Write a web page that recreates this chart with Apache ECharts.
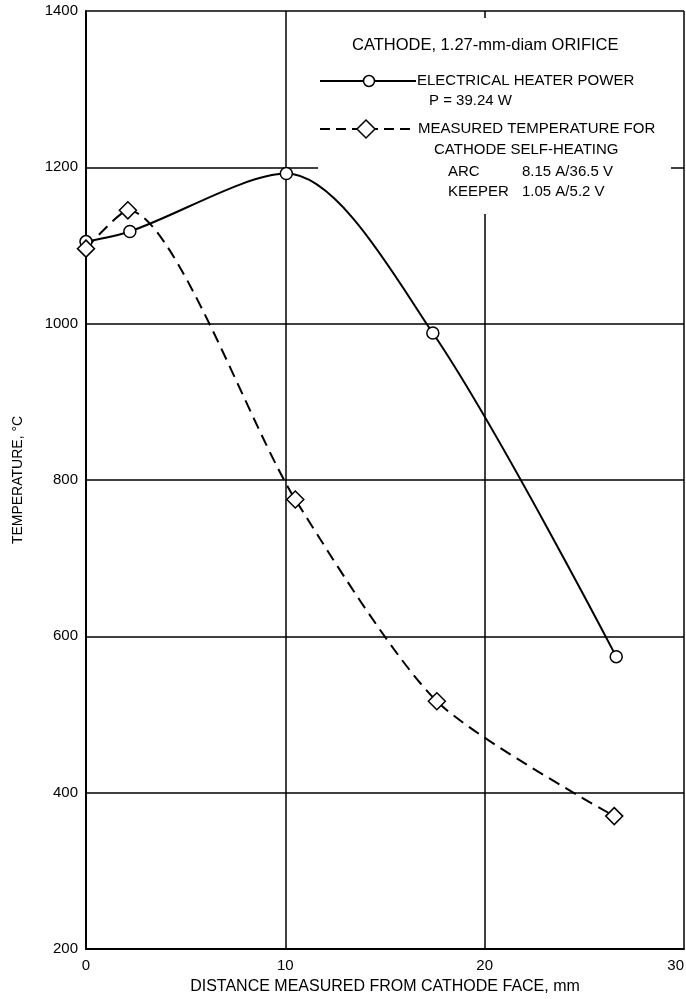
<!DOCTYPE html>
<html>
<head>
<meta charset="utf-8">
<title>Cathode temperature profile</title>
<script src="https://cdn.jsdelivr.net/npm/echarts@6/dist/echarts.min.js"></script>
<style>
  html, body { margin: 0; padding: 0; background: #fff; }
  #chart { width: 686px; height: 999px; }
</style>
</head>
<body>
<div id="chart"></div>
<script>
// distance from cathode face (mm) and temperature (deg C)
const distHeater = [0, 2.2, 10.05, 17.4, 26.6];
const tempHeater = [1105, 1118, 1192, 988, 574];
const distSelf = [0, 2.1, 10.5, 17.6, 26.5];
const tempSelf = [1096, 1145, 775, 517, 370];

const xTicks = [0, 10, 20, 30];
const yTicks = [200, 400, 600, 800, 1000, 1200, 1400];

const legendTitle = 'CATHODE, 1.27-mm-diam ORIFICE';
const heaterLines = ['ELECTRICAL HEATER POWER', 'P = 39.24 W'];
const selfLines = ['MEASURED TEMPERATURE FOR', 'CATHODE SELF-HEATING'];
const arcLine = ['ARC', '8.15 A/36.5 V'];
const keeperLine = ['KEEPER', '1.05 A/5.2 V'];

const FONT = 'Liberation Sans';
const pair = (xs, ys) => xs.map((x, i) => [x, ys[i]]);

const chart = echarts.init(document.getElementById('chart'));

const txt = (x, y, s, size) => ({
  type: 'text', x: x, y: y, z: 5,
  style: { text: s, fill: '#000', font: (size || 15) + 'px "' + FONT + '"', verticalAlign: 'middle' }
});

chart.setOption({
  animation: false,
  backgroundColor: '#fff',
  textStyle: { fontFamily: FONT, color: '#000' },
  grid: { left: 86, right: 2, top: 11, bottom: 50, outerBoundsMode: 'none', containLabel: false },
  xAxis: {
    type: 'value',
    min: xTicks[0],
    max: xTicks[xTicks.length - 1],
    interval: 10,
    name: 'DISTANCE MEASURED FROM CATHODE FACE, mm',
    nameLocation: 'middle',
    nameGap: 30,
    nameTextStyle: { fontSize: 16, color: '#000', fontFamily: FONT },
    axisLine: { lineStyle: { color: '#000', width: 2 } },
    axisTick: { show: false },
    axisLabel: { fontSize: 15, color: '#000', margin: 9, fontFamily: FONT, alignMaxLabel: 'right' },
    splitLine: { lineStyle: { color: '#000', width: 1.5 } }
  },
  yAxis: {
    type: 'value',
    min: yTicks[0],
    max: yTicks[yTicks.length - 1],
    interval: 200,
    name: 'TEMPERATURE, \u00b0C',
    nameLocation: 'middle',
    nameGap: 61,
    nameTextStyle: { fontSize: 14, color: '#000', fontFamily: FONT },
    axisLine: { lineStyle: { color: '#000', width: 2 } },
    axisTick: { show: false },
    axisLabel: { fontSize: 15, color: '#000', margin: 8, fontFamily: FONT, formatter: (v) => String(v) },
    splitLine: { lineStyle: { color: '#000', width: 1.5 } }
  },
  graphic: [
    // blank area behind the key, hides the grid lines
    { type: 'rect', z: 1, shape: { x: 318, y: 18, width: 353, height: 196 }, style: { fill: '#fff' } },
    txt(352, 45, legendTitle, 16.5),
    { type: 'line', z: 5, shape: { x1: 320, y1: 81, x2: 416, y2: 81 }, style: { stroke: '#000', lineWidth: 2 } },
    { type: 'circle', z: 6, shape: { cx: 369, cy: 81, r: 5.5 }, style: { fill: '#fff', stroke: '#000', lineWidth: 1.5 } },
    txt(417, 81, heaterLines[0]),
    txt(429, 101, heaterLines[1]),
    { type: 'line', z: 5, shape: { x1: 320, y1: 129, x2: 416, y2: 129 }, style: { stroke: '#000', lineWidth: 2, lineDash: [10, 6] } },
    { type: 'polygon', z: 6, shape: { points: [[366, 120], [375, 129], [366, 138], [357, 129]] }, style: { fill: '#fff', stroke: '#000', lineWidth: 1.5 } },
    txt(418, 129, selfLines[0]),
    txt(434, 150, selfLines[1]),
    txt(448, 172, arcLine[0]),
    txt(522, 172, arcLine[1]),
    txt(448, 192, keeperLine[0]),
    txt(522, 192, keeperLine[1])
  ],
  series: [
    {
      name: 'ELECTRICAL HEATER POWER',
      type: 'line',
      z: 3,
      smooth: 0.3,
      data: pair(distHeater, tempHeater),
      symbol: 'circle',
      symbolSize: 12,
      lineStyle: { color: '#000', width: 2 },
      itemStyle: { color: '#fff', borderColor: '#000', borderWidth: 1.5 }
    },
    {
      name: 'MEASURED TEMPERATURE FOR CATHODE SELF-HEATING',
      type: 'line',
      z: 3,
      smooth: 0.25,
      data: pair(distSelf, tempSelf),
      symbol: 'diamond',
      symbolSize: 17,
      lineStyle: { color: '#000', width: 2, type: [12, 7] },
      itemStyle: { color: '#fff', borderColor: '#000', borderWidth: 1.5 }
    }
  ]
});
</script>
</body>
</html>
